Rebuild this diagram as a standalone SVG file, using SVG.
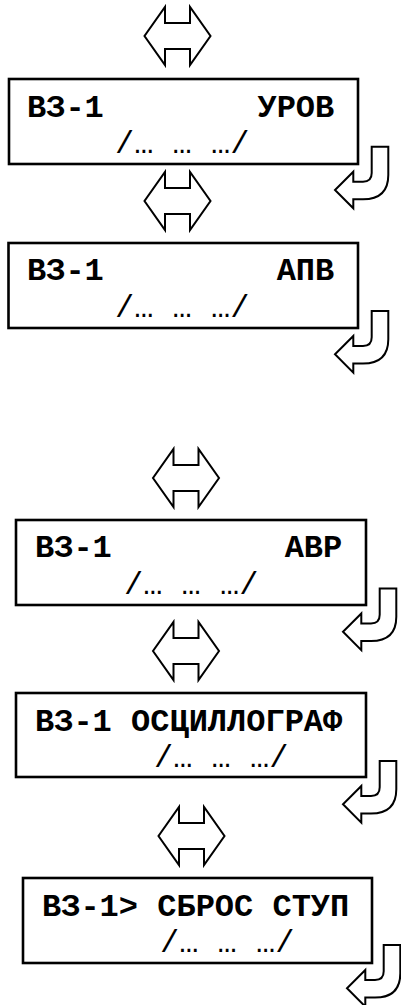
<svg xmlns="http://www.w3.org/2000/svg" xmlns:xlink="http://www.w3.org/1999/xlink" width="401" height="1005" viewBox="0 0 401 1005">
<style>
.box{fill:#fff;stroke:#000;stroke-width:2.6}
.arr{fill:#fff;stroke:#000;stroke-width:2;stroke-linejoin:miter}
.t1{font-family:"Liberation Mono","Courier New",monospace;font-weight:bold;font-size:32px;fill:#000;white-space:pre}
.t2{font-family:"Liberation Mono","Courier New",monospace;font-weight:normal;font-size:32px;fill:#000;white-space:pre}
</style>
<defs>
<polygon id="dbl" points="-12.5,-29 -12.5,-13 12.5,-13 12.5,-29 33,0 12.5,29 12.5,13 -12.5,13 -12.5,29 -33,0"/>
<path id="uturn" d="M0,0 L16.6,0 L16.6,28.3 Q16.6,52.6 -8.7,52.6 L-18.4,52.6 L-18.4,61.6 L-36.7,43.3 L-18.4,25 L-18.4,35 L-8.7,35 Q0,35 0,26.3 Z"/>
</defs>
<g id="connectors">
<use xlink:href="#dbl" href="#dbl" class="arr" transform="translate(177.5,36)"/>
<use xlink:href="#dbl" href="#dbl" class="arr" transform="translate(177.5,201)"/>
<use xlink:href="#dbl" href="#dbl" class="arr" transform="translate(186,478)"/>
<use xlink:href="#dbl" href="#dbl" class="arr" transform="translate(186,651)"/>
<use xlink:href="#dbl" href="#dbl" class="arr" transform="translate(191.5,836)"/>
<use xlink:href="#uturn" href="#uturn" class="arr" transform="translate(371.7,146.7)"/>
<use xlink:href="#uturn" href="#uturn" class="arr" transform="translate(371.7,311)"/>
<use xlink:href="#uturn" href="#uturn" class="arr" transform="translate(379.7,588.5)"/>
<use xlink:href="#uturn" href="#uturn" class="arr" transform="translate(379.7,761)"/>
<use xlink:href="#uturn" href="#uturn" class="arr" transform="translate(383.7,945)"/>
</g>
<g id="node1">
<rect class="box" x="9" y="79" width="349" height="85"/>
<text class="t1" x="27" y="117" xml:space="preserve">ВЗ-1        УРОВ</text>
<text class="t2" x="115" y="153" xml:space="preserve">/… … …/</text>
</g>
<g id="node2">
<rect class="box" x="8.5" y="243" width="349.5" height="85"/>
<text class="t1" x="27" y="280" xml:space="preserve">ВЗ-1         АПВ</text>
<text class="t2" x="115" y="317" xml:space="preserve">/… … …/</text>
</g>
<g id="node3">
<rect class="box" x="16" y="520" width="350" height="85"/>
<text class="t1" x="35" y="557" xml:space="preserve">ВЗ-1         АВР</text>
<text class="t2" x="124" y="594" xml:space="preserve">/… … …/</text>
</g>
<g id="node4">
<rect class="box" x="16" y="693" width="350" height="84"/>
<text class="t1" x="35" y="731" xml:space="preserve">ВЗ-1 ОСЦИЛЛОГРАФ</text>
<text class="t2" x="154" y="767" xml:space="preserve">/… … …/</text>
</g>
<g id="node5">
<rect class="box" x="23" y="878" width="349" height="85"/>
<text class="t1" x="42" y="916" xml:space="preserve">ВЗ-1&gt; СБРОС СТУП</text>
<text class="t2" x="160" y="952" xml:space="preserve">/… … …/</text>
</g>
</svg>
